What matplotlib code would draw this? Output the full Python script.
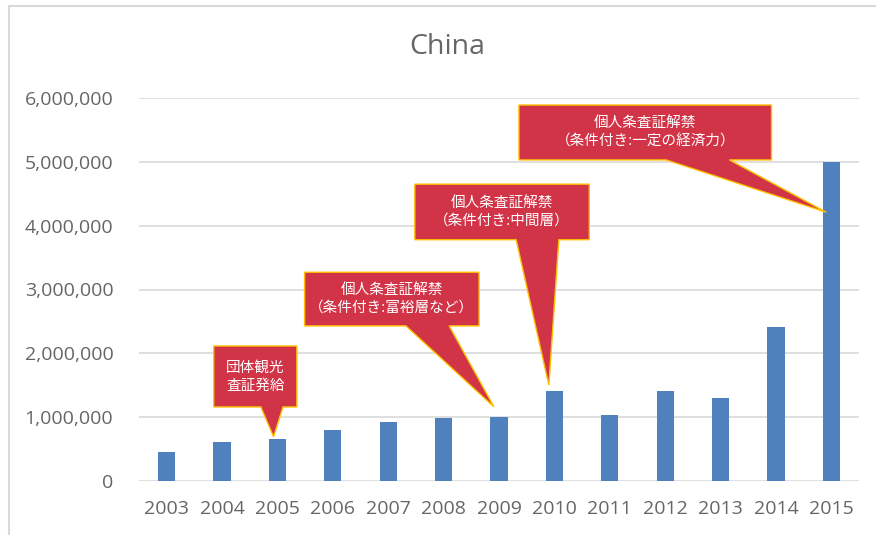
import matplotlib.pyplot as plt
from matplotlib.patches import Polygon
from matplotlib.lines import Line2D

# visitor numbers from China
years = ['2003', '2004', '2005', '2006', '2007', '2008', '2009',
         '2010', '2011', '2012', '2013', '2014', '2015']
visitors = [450000, 615000, 653000, 800000, 925000, 980000, 1005000,
            1410000, 1035000, 1410000, 1300000, 2410000, 5000000]
yticks = [0, 1000000, 2000000, 3000000, 4000000, 5000000, 6000000]

# callout texts and which bar they point at
notes = ['団体観光\n査証発給',
         '個人条査証解禁\n（条件付き:富裕層など）',
         '個人条査証解禁\n（条件付き:中間層）',
         '個人条査証解禁\n（条件付き:一定の経済力）']
note_bar = [2, 6, 7, 12]

# callout layout in data units: box x0, x1, y_top, y_bottom, tail base x0, x1, tip dx, tip dy
note_geom = [
    (0.85, 2.35, 2.115e6, 1.16e6, 1.70, 2.10, -0.07, 0.04e6),
    (2.49, 5.64, 3.27e6, 2.43e6, 4.32, 5.10, -0.09, 0.155e6),
    (4.48, 7.63, 4.65e6, 3.78e6, 6.31, 7.08, -0.10, 0.09e6),
    (6.36, 10.92, 5.89e6, 5.03e6, 9.02, 10.16, -0.09, -0.79e6),
]

txt_col = '#666666'
bar_col = '#4F81BD'
red = '#D13347'
gold = '#FFC000'

fig = plt.figure(figsize=(8.76, 5.35), dpi=100)
ax = fig.add_axes([139/876, 1-481/535, (859-139)/876, (481-98)/535])

x = list(range(len(years)))
ax.bar(x, visitors, width=0.31, color=bar_col, zorder=2)

ax.set_xlim(-0.5, 12.5)
ax.set_ylim(0, 6000000)
ax.set_yticks(yticks)
ax.set_yticklabels(['{:,}'.format(v) for v in yticks])
ax.set_xticks(x)
ax.set_xticklabels(years)
ax.grid(axis='y', color='#D9D9D9', linewidth=1.2, zorder=0)
for s in ax.spines.values():
    s.set_visible(False)
ax.tick_params(length=0, colors=txt_col, labelsize=14)
ax.tick_params(axis='y', pad=18.5)
ax.tick_params(axis='x', pad=14)
for lab in ax.get_xticklabels() + ax.get_yticklabels():
    lab.set_family('Open Sans')

fig.text(447/876, 1-47/535, 'China', ha='center', va='center',
         fontsize=20.5, color=txt_col, family='Open Sans')

# callouts
for txt, b, g in zip(notes, note_bar, note_geom):
    x0, x1, yt, yb, bx0, bx1, dx, dy = g
    tip = (x[b] + dx, visitors[b] + dy)
    pts = [(x0, yt), (x1, yt), (x1, yb), (bx1, yb), tip, (bx0, yb), (x0, yb)]
    ax.add_patch(Polygon(pts, closed=True, facecolor=red, edgecolor=gold,
                         linewidth=1.0, zorder=5, clip_on=False))
    ax.text((x0 + x1) / 2, (yt + yb) / 2, txt, ha='center', va='center',
            color='white', fontsize=10.5, linespacing=1.35, zorder=6,
            family=['Noto Sans CJK JP', 'DejaVu Sans'])

# light chart-area border on the left and top
fig.add_artist(Line2D([8.5/876, 8.5/876], [0, 1-6/535], color='#D9D9D9',
                      linewidth=1.5, transform=fig.transFigure))
fig.add_artist(Line2D([8.5/876, 1], [1-6/535, 1-6/535], color='#D9D9D9',
                      linewidth=1.5, transform=fig.transFigure))

fig.savefig('out.png', dpi=100)
